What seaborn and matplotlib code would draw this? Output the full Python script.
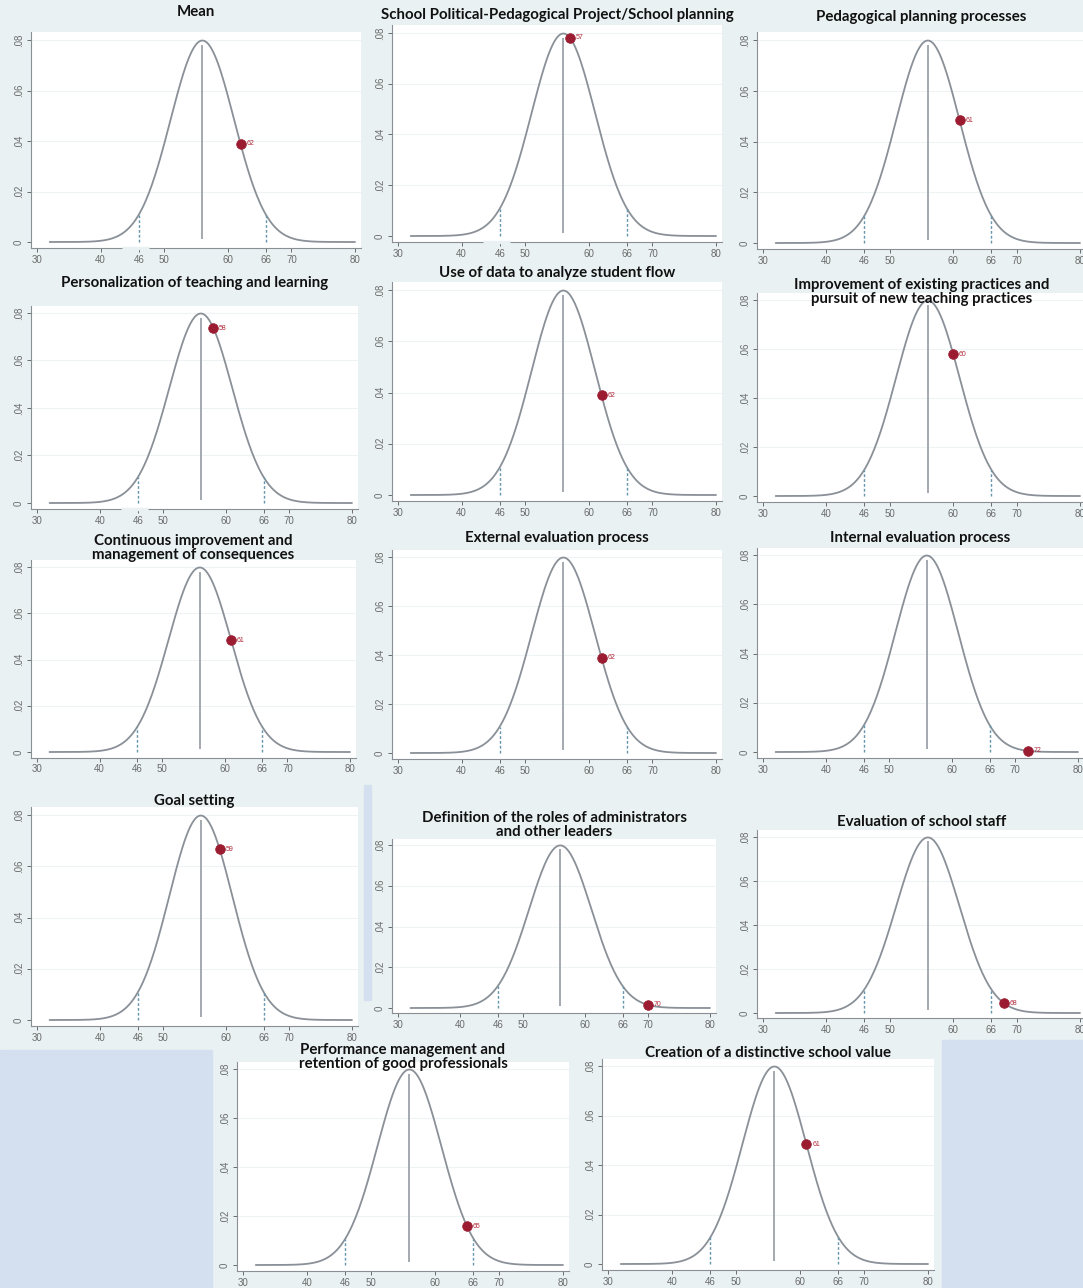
import numpy as np
import pandas as pd
import matplotlib
matplotlib.use("Agg")
import matplotlib.pyplot as plt
import seaborn as sns

# distribution used in every panel
mu = 56
sd = 5
x_ticks = [30, 40, 46, 50, 60, 66, 70, 80]
y_ticks = [0, 0.02, 0.04, 0.06, 0.08]
y_labels = ["0", ".02", ".04", ".06", ".08"]

titles = [
    "Mean",
    "School Political-Pedagogical Project/School planning",
    "Pedagogical planning processes",
    "Personalization of teaching and learning",
    "Use of data to analyze student flow",
    "Improvement of existing practices and\npursuit of new teaching practices",
    "Continuous improvement and\nmanagement of consequences",
    "External evaluation process",
    "Internal evaluation process",
    "Goal setting",
    "Definition of the roles of administrators\nand other leaders",
    "Evaluation of school staff",
    "Performance management and\nretention of good professionals",
    "Creation of a distinctive school value",
]
scores = [62, 57, 61, 58, 62, 60, 61, 62, 72, 59, 70, 68, 65, 61]

# panel placement in pixels: x of tick 30, x of tick 80, y of .08, y of 0, title y
panels = [
    (37, 355, 40, 242, 12),
    (398, 716, 33, 236, 15),
    (763, 1080, 40, 243, 17),
    (37, 352, 313, 503, 283),
    (398, 716, 290, 495, 273),
    (763, 1080, 300, 496, 292),
    (37, 350, 567, 752, 548),
    (398, 716, 557, 753, 538),
    (763, 1078, 555, 752, 538),
    (37, 352, 815, 1020, 801),
    (398, 710, 845, 1008, 825),
    (763, 1080, 837, 1013, 822),
    (243, 563, 1069, 1265, 1057),
    (608, 928, 1066, 1264, 1053),
]
# panels whose x axis line is broken around 46
broken = [0, 1, 3]

W, H = 1083, 1288
BG = "#e9f1f3"
sns.set_style("ticks")
plt.rcParams["font.family"] = ["Lato", "DejaVu Sans"]

fig = plt.figure(figsize=(W / 100, H / 100), dpi=100)
fig.patch.set_facecolor(BG)

# bluish empty areas
for (l, t, r, b) in [(0, 1050, 212, 1288), (942, 1040, 1083, 1288), (364, 785, 371, 1000)]:
    fig.patches.append(plt.Rectangle((l / W, 1 - b / H), (r - l) / W, (b - t) / H,
                                     transform=fig.transFigure, color="#d4e0ef", zorder=-1))


def pdf(v):
    return np.exp(-0.5 * ((np.asarray(v) - mu) / sd) ** 2) / (sd * np.sqrt(2 * np.pi))


xs = np.linspace(32, 80, 300)
curve = pd.DataFrame({"x": xs, "y": pdf(xs)})

for i, (title, score, (x30, x80, y08, y0, ty)) in enumerate(zip(titles, scores, panels)):
    sx = (x80 - x30) / 50
    sy = (y0 - y08) / 0.08
    left = x30 - 1 * sx
    right = x80 + 1 * sx
    top = y08 - 0.003 * sy
    bottom = y0 + 0.0024 * sy
    ax = fig.add_axes([left / W, 1 - bottom / H, (right - left) / W, (bottom - top) / H])
    ax.set_facecolor("white")
    for g in y_ticks[1:]:
        ax.axhline(g, color="#eef3f5", lw=0.8, zorder=0)

    sns.lineplot(data=curve, x="x", y="y", ax=ax, color="#8a9097", lw=1.3)
    ax.vlines(mu, 0.0012, 0.078, color="#a3a9ae", lw=1.4)
    for d in (mu - 2 * sd, mu + 2 * sd):
        ax.vlines(d, 0, pdf(d), color="#6596ac", lw=1.0, linestyles=(0, (2, 1.5)))
    pt = pd.DataFrame({"x": [score], "y": [pdf(score)]})
    sns.scatterplot(data=pt, x="x", y="y", ax=ax, color="#9b1c31", s=48,
                    edgecolor="#9b1c31", zorder=5)
    ax.text(score + 0.9, pdf(score), str(score), color="#b02a3a", fontsize=5,
            va="center", ha="left", zorder=6, family=["Liberation Sans", "DejaVu Sans"])

    ax.set_xlim(29, 81)
    ax.set_ylim(-0.0024, 0.083)
    ax.set_xticks(x_ticks)
    ax.set_xticklabels([str(t) for t in x_ticks])
    ax.set_yticks(y_ticks)
    ax.set_yticklabels(y_labels, rotation=90, va="center")
    ax.tick_params(axis="both", labelsize=7, colors="#6b6b6b", length=3, width=0.7, pad=2)
    for lab in ax.get_xticklabels() + ax.get_yticklabels():
        lab.set_family(["Liberation Sans", "DejaVu Sans"])
    ax.set_xlabel("")
    ax.set_ylabel("")
    for s in ("top", "right"):
        ax.spines[s].set_visible(False)
    for s in ("left", "bottom"):
        ax.spines[s].set_color("#8a8f95")
        ax.spines[s].set_linewidth(0.8)
    if i in broken:
        ax.plot([43.4, 47.6], [-0.0024, -0.0024], color=BG, lw=2.5, clip_on=False,
                zorder=10, solid_capstyle="butt")

    fig.text(((left + right) / 2) / W, 1 - ty / H, title, ha="center", va="center",
             fontsize=10.8, fontweight="bold", color="#111111", linespacing=1.0)

fig.savefig("out.png", dpi=100, facecolor=fig.get_facecolor())
